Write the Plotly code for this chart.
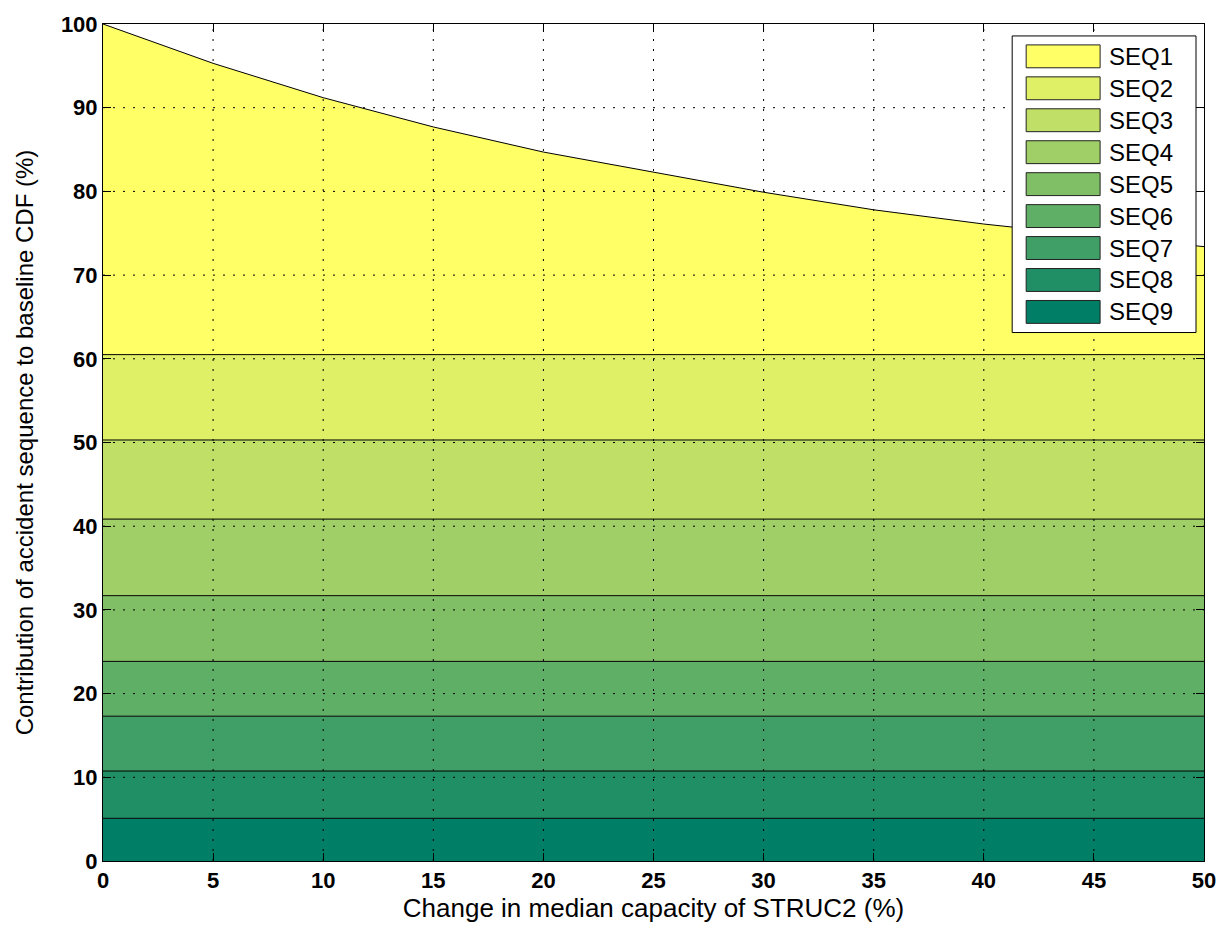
import plotly.graph_objects as go

# ---- data ----
x_change = [0, 5, 10, 15, 20, 25, 30, 35, 40, 45, 50]
seq_names = ["SEQ1", "SEQ2", "SEQ3", "SEQ4", "SEQ5", "SEQ6", "SEQ7", "SEQ8", "SEQ9"]
seq_colors = ["#FFFF66", "#DFEF66", "#BFDF66", "#9FCF66", "#80BF66",
              "#60AF66", "#409F66", "#208F66", "#007F66"]

seq1 = [39.5, 34.8, 30.7, 27.2, 24.2, 21.8, 19.4, 17.3, 15.6, 14.2, 12.9]
seq2 = [10.2] * len(x_change)
seq3 = [9.45] * len(x_change)
seq4 = [9.15] * len(x_change)
seq5 = [7.85] * len(x_change)
seq6 = [6.55] * len(x_change)
seq7 = [6.55] * len(x_change)
seq8 = [5.65] * len(x_change)
seq9 = [5.1] * len(x_change)

x_ticks = [0, 5, 10, 15, 20, 25, 30, 35, 40, 45, 50]
y_ticks = [0, 10, 20, 30, 40, 50, 60, 70, 80, 90, 100]

series = [seq1, seq2, seq3, seq4, seq5, seq6, seq7, seq8, seq9]

W, H = 1228, 930
ML, MR, MT, MB = 103, 23, 20, 69
PW, PH = W - ML - MR, H - MT - MB


def px_x(p):
    return (p - ML) / PW


def px_y(p):
    return (H - MB - p) / PH


fig = go.Figure()
# stack bottom (SEQ9) to top (SEQ1)
for name, color, vals in reversed(list(zip(seq_names, seq_colors, series))):
    fig.add_trace(go.Scatter(
        x=x_change, y=vals, name=name, mode="lines",
        stackgroup="one", fillcolor=color,
        line=dict(color="black", width=1),
        hoverinfo="x+y+name", showlegend=False,
    ))

# dotted grid drawn above the filled areas
grid_style = dict(color="black", width=1, dash="2px,8px")
for t in x_ticks[1:-1]:
    fig.add_shape(type="line", xref="x", yref="y", x0=t, x1=t,
                  y0=y_ticks[0], y1=y_ticks[-1], line=grid_style, layer="above")
for t in y_ticks[1:-1]:
    fig.add_shape(type="line", xref="x", yref="y", y0=t, y1=t,
                  x0=x_ticks[0], x1=x_ticks[-1], line=grid_style, layer="above")

# legend box (MATLAB style, large swatches)
lg_left, lg_right, lg_top, lg_bottom = 1013, 1197, 32, 330
fig.add_shape(type="rect", xref="paper", yref="paper",
              x0=px_x(lg_left), x1=px_x(lg_right), y0=px_y(lg_bottom), y1=px_y(lg_top),
              fillcolor="white", line=dict(color="black", width=1), layer="above")
sw_left, sw_right, sw_top0, sw_h, step = 1027, 1101, 41, 23, 32.1
for i, (name, color) in enumerate(zip(seq_names, seq_colors)):
    top = sw_top0 + i * step
    fig.add_shape(type="rect", xref="paper", yref="paper",
                  x0=px_x(sw_left), x1=px_x(sw_right),
                  y0=px_y(top + sw_h), y1=px_y(top),
                  fillcolor=color, line=dict(color="#222222", width=1), layer="above")
    fig.add_annotation(xref="paper", yref="paper", x=px_x(1108), y=px_y(top + sw_h / 2),
                       xanchor="left", yanchor="middle", text=name, showarrow=False,
                       font=dict(size=24, color="black"))

axis_common = dict(
    showline=True, linecolor="black", linewidth=1, mirror="allticks",
    ticks="inside", ticklen=8, tickcolor="black", showgrid=False,
    zeroline=False, layer="above traces",
    tickfont=dict(family="Liberation Sans, Arial", size=22, color="black", weight="bold"),
)

fig.update_layout(
    width=W, height=H,
    margin=dict(l=ML, r=MR, t=MT, b=MB),
    paper_bgcolor="white", plot_bgcolor="white",
    font=dict(family="Liberation Sans, Arial", color="black"),
    xaxis=dict(range=[0, 50], tickvals=x_ticks,
               title=dict(text="Change in median capacity of STRUC2 (%)",
                          font=dict(size=26), standoff=6),
               **axis_common),
    yaxis=dict(range=[0, 100], tickvals=y_ticks,
               title=dict(text="Contribution of accident sequence to baseline CDF (%)",
                          font=dict(size=24), standoff=20),
               **axis_common),
    showlegend=False,
)

fig.write_html("out.html")
